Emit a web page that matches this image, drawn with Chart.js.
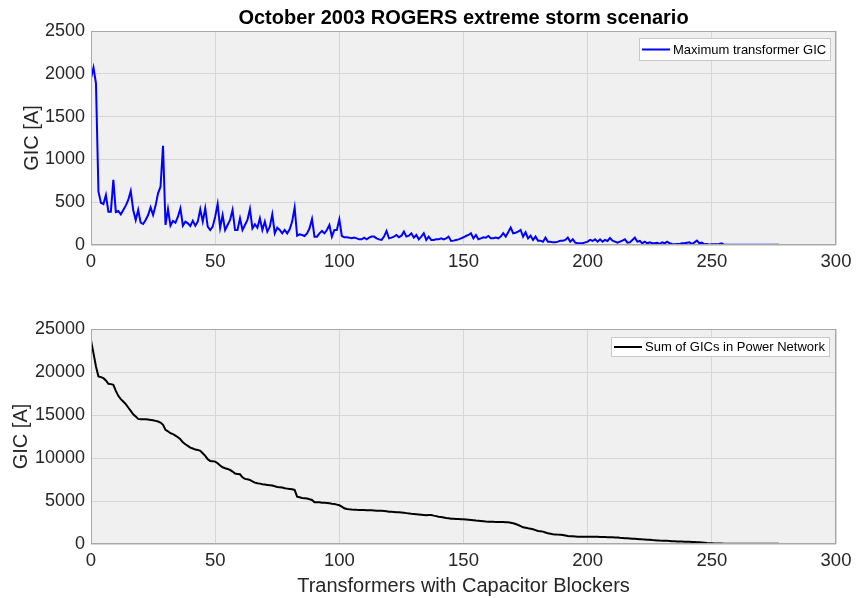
<!DOCTYPE html>
<html><head><meta charset="utf-8">
<script src="https://cdn.jsdelivr.net/npm/chart.js@4.4.0/dist/chart.umd.min.js"></script>
<style>
html,body{margin:0;padding:0;background:#fff;}
#wrap{position:relative;width:857px;height:598px;overflow:hidden;}
canvas{position:absolute;left:0;}
#c1{top:0;}
#c2{top:290px;}
</style></head><body>
<div id="wrap"><canvas id="c1" width="857" height="290"></canvas><canvas id="c2" width="857" height="308"></canvas></div>
<script>
const chartTitle = 'October 2003 ROGERS extreme storm scenario';
const xAxisTitle = 'Transformers with Capacitor Blockers';
const yAxisTitle = 'GIC [A]';
const seriesMaxName = 'Maximum transformer GIC';
const seriesSumName = 'Sum of GICs in Power Network';

const maxTransformerGIC = [
1947,2072,1889,623,494,479,584,389,389,760,
385,397,358,409,460,526,631,409,292,409,
261,245,292,350,440,350,460,604,681,1160,
234,420,226,280,261,331,428,226,273,253,
222,284,226,273,417,273,428,214,175,214,
331,479,202,350,175,234,292,409,175,175,
311,175,234,292,420,195,241,202,311,175,
273,156,214,358,136,202,175,136,175,136,
183,273,436,109,125,117,105,136,195,304,
97,97,136,164,136,175,234,97,175,175,
300,105,90,90,86,78,86,78,66,66,
86,66,86,98,98,78,66,59,98,164,
78,86,98,117,90,109,156,98,109,137,
86,117,66,98,137,59,98,59,59,66,
66,78,66,78,98,47,51,59,66,78,
90,105,117,137,78,117,66,78,90,86,
105,78,78,86,78,98,137,98,148,203,
137,144,156,176,98,148,78,109,59,98,
51,51,39,86,39,39,31,31,39,51,
51,59,86,39,66,27,20,20,20,31,
39,59,47,66,39,66,39,59,47,82,
51,39,27,39,51,66,27,31,59,86,
39,47,20,39,20,31,20,20,27,12,
31,20,39,20,12,8,12,12,20,20,
27,31,12,31,51,20,27,8,12,3,
8,8,8,12,20,3,3,3,3,3,
3,3,3,3,3,3,3,3,3,3,
3,3,3,3,3,3,3,3
];

const sumGIC = [
23670,22190,20640,19480,19400,19280,19010,18620,18590,18510,
17810,17230,16840,16570,16260,15870,15480,15090,14820,14550,
14510,14510,14510,14470,14430,14390,14320,14240,14120,13850,
13270,13110,12880,12770,12610,12420,12180,11830,11600,11410,
11210,11100,10980,10940,10830,10550,10240,9860,9660,9620,
9580,9390,9120,8920,8810,8730,8610,8420,8190,8150,
8110,7760,7570,7530,7450,7290,7140,7060,7020,6950,
6910,6870,6830,6790,6710,6630,6600,6560,6480,6440,
6400,6360,6290,5510,5430,5350,5320,5280,5200,5120,
4850,4850,4850,4810,4810,4770,4730,4690,4660,4580,
4500,4350,4150,4070,4030,4000,3990,3970,3960,3950,
3940,3930,3920,3910,3900,3880,3870,3860,3840,3800,
3760,3740,3720,3700,3680,3650,3620,3590,3560,3520,
3490,3460,3430,3400,3370,3340,3360,3380,3300,3240,
3180,3130,3080,3030,2990,2950,2930,2910,2900,2880,
2870,2840,2810,2780,2750,2720,2700,2680,2650,2620,
2600,2590,2580,2570,2565,2560,2550,2540,2520,2470,
2410,2320,2210,2080,1940,1880,1820,1770,1710,1610,
1510,1480,1440,1340,1240,1190,1130,1110,1090,1070,
1050,990,930,910,890,870,850,850,850,850,
850,845,840,835,830,820,810,800,790,785,
780,765,745,720,705,680,665,640,615,600,
580,565,540,525,500,485,460,445,420,400,
390,380,365,350,330,315,300,290,280,275,
270,260,240,225,210,190,170,140,110,90,
80,70,60,50,45,40,35,35,30,30,
30,25,25,25,25,20,20,20,20,20,
20,20,20,20,20,20,20,20
];

const transformersBlocked = maxTransformerGIC.map((_, i) => i);
const xTicks = [0, 50, 100, 150, 200, 250, 300];
const yTicksTop = [0, 500, 1000, 1500, 2000, 2500];
const yTicksBottom = [0, 5000, 10000, 15000, 20000, 25000];

const FONT = '"Liberation Sans", Arial, Helvetica, sans-serif';
const TXT = '#262626';

const plotFrame = {
  id: 'plotFrame',
  beforeDraw(chart) {
    const {ctx, chartArea: a} = chart;
    ctx.save();
    ctx.fillStyle = '#f0f0f0';
    ctx.fillRect(a.left, a.top, a.right - a.left, a.bottom - a.top);
    ctx.restore();
  },
  afterDatasetsDraw(chart) {
    const {ctx, chartArea: a} = chart;
    ctx.save();
    ctx.strokeStyle = '#a8a8a8';
    ctx.lineWidth = 1;
    ctx.strokeRect(Math.round(a.left) + 0.5, Math.round(a.top) + 0.5, Math.round(a.right - a.left) - 1, Math.round(a.bottom - a.top) - 1);
    ctx.restore();
  }
};

const boxLegend = {
  id: 'boxLegend',
  afterDraw(chart, args, opts) {
    const {ctx, chartArea: a} = chart;
    const ds = chart.data.datasets[0];
    ctx.save();
    ctx.font = '13px ' + FONT;
    const tw = ctx.measureText(ds.label).width;
    const padL = 3, lineLen = 28, gap = 3, padR = 4;
    const w = Math.round(padL + lineLen + gap + tw + padR);
    const h = opts.h;
    const x = Math.round(a.right - opts.mr - w);
    const y = Math.round(a.top + opts.mt);
    ctx.fillStyle = '#ffffff';
    ctx.fillRect(x, y, w, h);
    ctx.strokeStyle = '#c8c8c8';
    ctx.lineWidth = 1;
    ctx.strokeRect(x + 0.5, y + 0.5, w, h);
    ctx.strokeStyle = ds.borderColor;
    ctx.lineWidth = 2;
    ctx.beginPath();
    ctx.moveTo(x + padL, y + h / 2 + 0.5);
    ctx.lineTo(x + padL + lineLen, y + h / 2 + 0.5);
    ctx.stroke();
    ctx.fillStyle = '#000';
    ctx.textBaseline = 'middle';
    ctx.textAlign = 'left';
    ctx.fillText(ds.label, x + padL + lineLen + gap, y + h / 2 + 1);
    ctx.restore();
  }
};

const mainTitle = {
  id: 'mainTitle',
  afterDraw(chart, args, opts) {
    if (!opts.text) return;
    const {ctx, chartArea: a} = chart;
    ctx.save();
    ctx.font = 'bold 20px ' + FONT;
    ctx.fillStyle = '#000';
    ctx.textAlign = 'center';
    ctx.textBaseline = 'middle';
    ctx.fillText(opts.text, (a.left + a.right) / 2, opts.y);
    ctx.restore();
  }
};

function makeChart(id, values, label, color, yTicks, cfg) {
  const points = transformersBlocked.map((x, i) => ({x: x, y: values[i]}));
  return new Chart(document.getElementById(id), {
    type: 'line',
    data: { datasets: [{ label: label, data: points, borderColor: color, backgroundColor: color, borderWidth: 2, pointRadius: 0, tension: 0, fill: false }] },
    options: {
      responsive: false, animation: false, devicePixelRatio: 1,
      layout: { padding: { top: cfg.top, right: 21, left: 0, bottom: 0 } },
      plugins: {
        legend: { display: false }, tooltip: { enabled: false },
        boxLegend: cfg.legend,
        mainTitle: { text: cfg.title, y: 18 }
      },
      scales: {
        x: {
          type: 'linear', min: xTicks[0], max: xTicks[xTicks.length - 1],
          ticks: { stepSize: xTicks[1] - xTicks[0], color: TXT, font: { family: FONT, size: 18.5 }, padding: 3, maxRotation: 0, callback: v => String(v) },
          grid: { color: '#d6d6d6', tickLength: 3, tickColor: 'transparent' },
          border: { display: false },
          title: { display: cfg.xTitle, text: xAxisTitle, color: TXT, font: { family: FONT, size: 20 }, padding: { top: 0, bottom: 0 } },
          afterFit(s) { s.height = cfg.xh; }
        },
        y: {
          min: yTicks[0], max: yTicks[yTicks.length - 1],
          ticks: { stepSize: yTicks[1] - yTicks[0], color: TXT, font: { family: FONT, size: 18 }, padding: 3, callback: v => String(v) },
          grid: { color: '#d6d6d6', tickLength: 3, tickColor: 'transparent' },
          border: { display: false },
          title: { display: true, text: yAxisTitle, color: TXT, font: { family: FONT, size: 20 }, padding: { top: cfg.ytp, bottom: 0 } },
          afterFit(s) { s.width = 91; }
        }
      }
    },
    plugins: [plotFrame, boxLegend, mainTitle]
  });
}

makeChart('c1', maxTransformerGIC, seriesMaxName, '#0000ff', yTicksTop,
  { top: 31, xh: 45, xTitle: false, title: chartTitle, ytp: 20, legend: { h: 22, mr: 6, mt: 7 } });
makeChart('c2', sumGIC, seriesSumName, '#000000', yTicksBottom,
  { top: 39, xh: 54, xTitle: true, title: '', ytp: 9, legend: { h: 19, mr: 7, mt: 8 } });
</script>
</body></html>
